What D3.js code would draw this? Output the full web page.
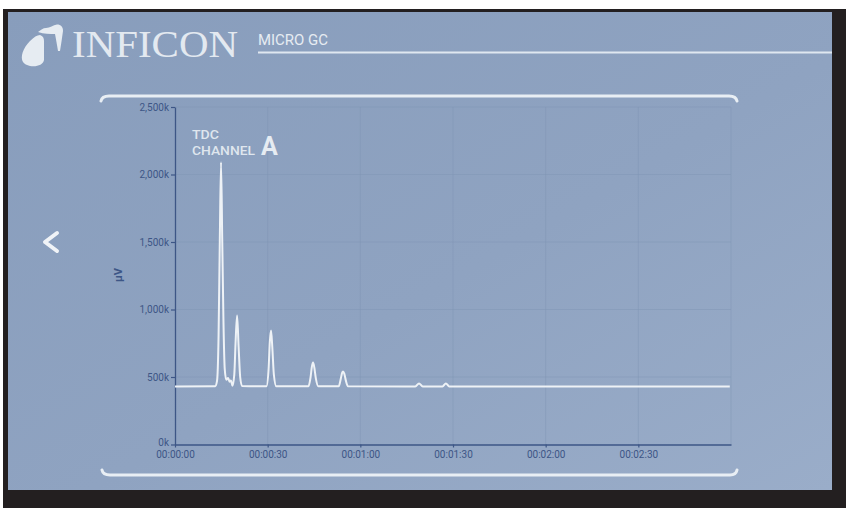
<!DOCTYPE html>
<html>
<head>
<meta charset="utf-8">
<script src="https://cdn.jsdelivr.net/npm/d3@7"></script>
<style>
  html, body { margin: 0; padding: 0; background: #ffffff; }
  svg { display: block; }
</style>
</head>
<body>
<svg id="chart"></svg>
<script>
// trace samples (time in s, signal in kµV)
const timeSec = [0, 13.0, 13.6, 14.1, 14.5, 14.9, 15.3, 15.7, 16.1, 16.6, 17.2, 17.7, 18.1, 18.6,
  19.2, 19.6, 20.1, 20.6, 21.1, 21.7,
  29.6, 30.3, 30.7, 31.1, 31.5, 32.0, 32.8,
  43.2, 43.9, 44.3, 44.7, 45.1, 45.6, 46.4,
  53.0, 53.7, 54.1, 54.4, 54.8, 55.3, 56.0,
  77.8, 79.0, 80.2, 86.6, 87.7, 88.8, 179.6];
const microVolts = [430, 432, 470, 800, 1500, 2090, 1500, 900, 560, 480, 492, 465, 475, 436,
  520, 750, 955, 720, 500, 433,
  431, 560, 760, 844, 720, 520, 431,
  431, 500, 575, 607, 570, 490, 431,
  431, 490, 530, 541, 525, 475, 431,
  430, 452, 430, 430, 452, 430, 430];

const yTicks = [0, 500, 1000, 1500, 2000, 2500];
const yTickLabels = ["0k", "500k", "1,000k", "1,500k", "2,000k", "2,500k"];
const xTicks = [0, 30, 60, 90, 120, 150];
const xTickLabels = ["00:00:00", "00:00:30", "00:01:00", "00:01:30", "00:02:00", "00:02:30"];

const W = 846, H = 508;
const plot = { left: 175, right: 731, top: 107, bottom: 444.5 };

const svg = d3.select("#chart").attr("width", W).attr("height", H);

// screen background + dark bezel
svg.append("rect").attr("x", 3).attr("y", 9).attr("width", W - 3).attr("height", H - 9).attr("fill", "#231f20");
const defs = svg.append("defs");
const grad = defs.append("linearGradient").attr("id", "bg")
  .attr("x1", "0").attr("y1", "0").attr("x2", "1").attr("y2", "1");
grad.append("stop").attr("offset", "0%").attr("stop-color", "#889dbc");
grad.append("stop").attr("offset", "55%").attr("stop-color", "#8fa3c1");
grad.append("stop").attr("offset", "100%").attr("stop-color", "#9aadc9");
svg.append("rect").attr("x", 8).attr("y", 12).attr("width", 824).attr("height", 478).attr("fill", "url(#bg)");

const light = "#e6ecf2";

// logo mark
svg.append("path")
  .attr("d", "M23 62 C20 57 23 48 30 41 C34 37 37 35 40 35 C43 36 44 38 44 41 L44 60 C43 65 37 67 30 66 C27 65 24 64 23 62 Z")
  .attr("fill", light);
svg.append("path")
  .attr("d", "M38 32 C41 30 43 28 46 28 C50 28 53 25 57 24.5 C61 24.5 63 27 63 31 C62 38 61 45 60 51 L58 51 C57 45 56 39 55 34 C50 34 44 34 38 32 Z")
  .attr("fill", light);

svg.append("text").attr("x", 72).attr("y", 57)
  .attr("textLength", 166).attr("lengthAdjust", "spacingAndGlyphs")
  .style("font-family", "Liberation Serif, serif").style("font-size", "38px")
  .attr("fill", "#e3e9f0").text("INFICON");

svg.append("text").attr("x", 258).attr("y", 45)
  .attr("textLength", 70).attr("lengthAdjust", "spacingAndGlyphs")
  .style("font-family", "Roboto, sans-serif").style("font-size", "14px")
  .attr("fill", light).text("MICRO GC");
svg.append("line").attr("x1", 258).attr("x2", 832).attr("y1", 52.5).attr("y2", 52.5)
  .attr("stroke", "#dfe7f0").attr("stroke-width", 1.8);

// panel brackets
svg.append("path").attr("d", "M101 101 Q102 96 109 96 L729 96 Q736 96 737 101")
  .attr("fill", "none").attr("stroke", "#e8eef4").attr("stroke-width", 3).attr("stroke-linecap", "round");
svg.append("path").attr("d", "M102 470 Q103 475 110 475 L730 475 Q736 475 737 470")
  .attr("fill", "none").attr("stroke", "#e8eef4").attr("stroke-width", 3).attr("stroke-linecap", "round");

// back chevron
svg.append("path").attr("d", "M57 233 L45 242 L57 251")
  .attr("fill", "none").attr("stroke", "#f0f3f7").attr("stroke-width", 4)
  .attr("stroke-linecap", "round").attr("stroke-linejoin", "round");

// scales
const x = d3.scaleLinear().domain([0, 180]).range([plot.left, plot.right]);
const y = d3.scaleLinear().domain([0, 2500]).range([plot.bottom, plot.top]);

const axisColor = "#3d5686";

// grid
const grid = svg.append("g");
grid.selectAll(".gx").data(xTicks.slice(1).concat([180])).join("line")
  .attr("x1", d => x(d)).attr("x2", d => x(d))
  .attr("y1", plot.top).attr("y2", plot.bottom)
  .attr("stroke", "#7f94b3").attr("stroke-opacity", 0.45).attr("stroke-width", 1);
grid.selectAll(".gy").data(yTicks.slice(1)).join("line")
  .attr("x1", plot.left).attr("x2", plot.right)
  .attr("y1", d => y(d)).attr("y2", d => y(d))
  .attr("stroke", "#7f94b3").attr("stroke-opacity", 0.45).attr("stroke-width", 1);

// axes
const xAxis = svg.append("g").attr("transform", `translate(0,${plot.bottom})`)
  .call(d3.axisBottom(x).tickValues(xTicks).tickSize(3).tickSizeOuter(0)
    .tickFormat((d, i) => xTickLabels[i]));
const yAxis = svg.append("g").attr("transform", `translate(${plot.left},0)`)
  .call(d3.axisLeft(y).tickValues(yTicks).tickSize(4).tickSizeOuter(0)
    .tickFormat((d, i) => yTickLabels[i]));

[xAxis, yAxis].forEach(a => {
  a.select(".domain").attr("stroke", axisColor).attr("stroke-width", 1.3);
  a.selectAll(".tick line").attr("stroke", axisColor).attr("stroke-width", 1.2);
  a.selectAll(".tick text").attr("fill", axisColor)
    .style("font-family", "Roboto, sans-serif").style("font-size", "10px");
});
xAxis.selectAll(".tick text").attr("dy", "0.6em").attr("y", 7);
yAxis.selectAll(".tick text").attr("x", -6);
// the 0k label sits just above the time labels, as on the screen
yAxis.selectAll(".tick text").filter(d => d === 0).attr("dy", "0.1em");

svg.append("text")
  .attr("transform", "translate(122,275) rotate(-90)")
  .attr("text-anchor", "middle")
  .attr("fill", axisColor).style("font-family", "Roboto, sans-serif")
  .style("font-size", "11px").style("font-weight", "bold").text("µV");

// channel label
svg.append("text").attr("x", 192).attr("y", 139)
  .attr("textLength", 27).attr("lengthAdjust", "spacingAndGlyphs")
  .style("font-family", "Roboto, sans-serif").style("font-size", "13px").style("font-weight", "500")
  .attr("fill", "#dfe6ee").text("TDC");
svg.append("text").attr("x", 192).attr("y", 154.5)
  .attr("textLength", 63).attr("lengthAdjust", "spacingAndGlyphs")
  .style("font-family", "Roboto, sans-serif").style("font-size", "13px").style("font-weight", "500")
  .attr("fill", "#dfe6ee").text("CHANNEL");
svg.append("text").attr("x", 261).attr("y", 154.5)
  .style("font-family", "Roboto, sans-serif").style("font-size", "25px").style("font-weight", "bold")
  .attr("fill", "#e6ecf2").text("A");

// chromatogram trace
const pts = timeSec.map((t, i) => [t, microVolts[i]]);
const line = d3.line().x(d => x(d[0])).y(d => y(d[1])).curve(d3.curveMonotoneX);
svg.append("path").datum(pts)
  .attr("d", line)
  .attr("fill", "none")
  .attr("stroke", "#eef2f6")
  .attr("stroke-width", 2)
  .attr("stroke-linejoin", "round");
</script>
</body>
</html>
